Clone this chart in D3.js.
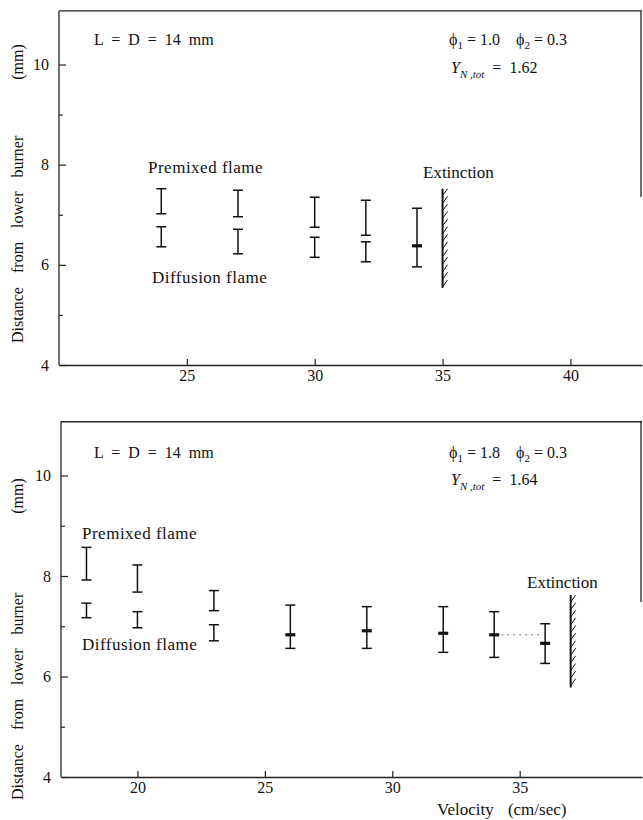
<!DOCTYPE html>
<html><head><meta charset="utf-8">
<script src="https://cdn.jsdelivr.net/npm/d3@7"></script>
<style>
body{margin:0;background:#fff}
text{font-family:"Liberation Serif","Times New Roman",serif;fill:#111}
</style></head><body>
<svg id="c" width="643" height="820"></svg>
<script>
// ---------- data (top panel: phi1 = 1.0) ----------
const topVel      = [24, 27, 30, 32, 34];
const topPreHigh  = [7.52, 7.49, 7.35, 7.29, 7.13];
const topPreLow   = [7.02, 6.96, 6.75, 6.59, 6.38];
const topDifHigh  = [6.76, 6.71, 6.55, 6.46, 6.38];
const topDifLow   = [6.36, 6.22, 6.15, 6.06, 5.96];
const topExtinction = 35;
const topExtRange = [5.54, 7.52];
const topXTicks = [25, 30, 35, 40];

// ---------- data (bottom panel: phi1 = 1.8) ----------
const botVel      = [18, 20, 23, 26, 29, 32, 34, 36];
const botPreHigh  = [8.57, 8.22, 7.71, 7.42, 7.39, 7.39, 7.29, 7.05];
const botPreLow   = [7.92, 7.68, 7.31, 6.83, 6.91, 6.86, 6.83, 6.66];
const botDifHigh  = [7.46, 7.29, 7.03, 6.83, 6.91, 6.86, 6.83, 6.66];
const botDifLow   = [7.17, 6.97, 6.71, 6.56, 6.56, 6.48, 6.38, 6.26];
const botExtinction = 37;
const botExtRange = [5.78, 7.62];
const botXTicks = [20, 25, 30, 35];
const botDotted = [[34, 6.83], [36, 6.83]];

const yMajor = [4, 6, 8, 10];
const yMinor = [5, 7, 9];

const svg = d3.select("#c");

function panel(cfg){
  const g = svg.append("g");
  const x = d3.scaleLinear().domain(cfg.xDomain).range(cfg.xRange);
  const y = d3.scaleLinear().domain([4, 10]).range(cfg.yRange);
  const X0 = cfg.xRange[0], X1 = cfg.xRange[1], Y0 = cfg.yRange[0], YT = y(cfg.yTopVal);

  g.append("line").attr("x1",X0).attr("x2",X1).attr("y1",YT).attr("y2",YT)
    .attr("stroke","#222").attr("stroke-width",1.3);
  g.append("line").attr("x1",X1-1).attr("x2",X1-1).attr("y1",YT).attr("y2",cfg.rightEnd)
    .attr("stroke","#222").attr("stroke-width",1.3);

  const ya = g.append("g").attr("transform",`translate(${X0},0)`)
    .call(d3.axisLeft(y).tickValues(yMajor).tickSize(-7).tickSizeOuter(0).tickPadding(10).tickFormat(d3.format("d")));
  ya.select(".domain").attr("d",`M0,${Y0}V${YT}`);
  ya.selectAll("text").style("font-size","16px").style("font-family","Liberation Serif");
  g.append("g").attr("transform",`translate(${X0},0)`)
    .call(d3.axisLeft(y).tickValues(yMinor).tickSize(-4).tickSizeOuter(0).tickFormat(""))
    .select(".domain").remove();
  const xa = g.append("g").attr("transform",`translate(0,${Y0})`)
    .call(d3.axisBottom(x).tickValues(cfg.xTicks).tickSize(-6).tickSizeOuter(0).tickPadding(5).tickFormat(d3.format("d")));
  xa.selectAll("text").style("font-size","16px").style("font-family","Liberation Serif");
  g.selectAll(".domain").attr("stroke","#222").attr("stroke-width",1.3);
  g.selectAll(".tick line").attr("stroke","#222").attr("stroke-width",1.2);

  const cap = 5;
  const bars = g.append("g").attr("stroke","#111").attr("stroke-width",1.5);
  cfg.vel.forEach((v,i)=>{
    const cx = x(v);
    const joined = cfg.preLow[i] === cfg.difHigh[i];
    bars.append("line").attr("x1",cx).attr("x2",cx).attr("y1",y(cfg.preHigh[i])).attr("y2",y(cfg.preLow[i]));
    bars.append("line").attr("x1",cx-cap).attr("x2",cx+cap).attr("y1",y(cfg.preHigh[i])).attr("y2",y(cfg.preHigh[i]));
    bars.append("line").attr("x1",cx).attr("x2",cx).attr("y1",y(cfg.difHigh[i])).attr("y2",y(cfg.difLow[i]));
    bars.append("line").attr("x1",cx-cap).attr("x2",cx+cap).attr("y1",y(cfg.difLow[i])).attr("y2",y(cfg.difLow[i]));
    if (joined){
      bars.append("line").attr("x1",cx-cap).attr("x2",cx+cap).attr("y1",y(cfg.preLow[i])).attr("y2",y(cfg.preLow[i]))
        .attr("stroke-width",3.2);
    } else {
      bars.append("line").attr("x1",cx-cap).attr("x2",cx+cap).attr("y1",y(cfg.preLow[i])).attr("y2",y(cfg.preLow[i]));
      bars.append("line").attr("x1",cx-cap).attr("x2",cx+cap).attr("y1",y(cfg.difHigh[i])).attr("y2",y(cfg.difHigh[i]));
    }
  });

  if (cfg.dotted){
    g.append("line").attr("x1",x(cfg.dotted[0][0])+7).attr("x2",x(cfg.dotted[1][0])-4)
      .attr("y1",y(cfg.dotted[0][1])).attr("y2",y(cfg.dotted[1][1]))
      .attr("stroke","#777").attr("stroke-width",1).attr("stroke-dasharray","2,4");
  }

  const ex = x(cfg.ext);
  const yTop = y(cfg.extRange[1]), yBot = y(cfg.extRange[0]);
  g.append("line").attr("x1",ex).attr("x2",ex).attr("y1",yTop).attr("y2",yBot)
    .attr("stroke","#111").attr("stroke-width",2);
  const hatch = d3.range(yTop+7, yBot+1, 7.6);
  g.selectAll(null).data(hatch).enter().append("line")
    .attr("x1",ex).attr("y1",d=>d).attr("x2",ex+5).attr("y2",d=>d-7)
    .attr("stroke","#111").attr("stroke-width",1);

  const t = (txt,xx,yy,size)=>g.append("text").attr("x",xx).attr("y",yy).style("font-size",(size||16)+"px").text(txt);
  g.append("text").attr("x",cfg.ld[0]).attr("y",cfg.ld[1]).style("font-size","16px")
    .attr("xml:space","preserve").style("white-space","pre").text("L  =  D  =  14  mm");
  const ph = g.append("text").attr("x",cfg.phi[0]).attr("y",cfg.phi[1]).style("font-size","16px").style("white-space","pre");
  ph.append("tspan").text("\u03d5");
  ph.append("tspan").attr("dy",4).style("font-size","11px").text("1");
  ph.append("tspan").attr("dy",-4).text(" = " + cfg.phi1 + "    \u03d5");
  ph.append("tspan").attr("dy",4).style("font-size","11px").text("2");
  ph.append("tspan").attr("dy",-4).text(" = 0.3");
  const yn = g.append("text").attr("x",cfg.yn[0]).attr("y",cfg.yn[1]).style("font-size","16px").style("white-space","pre");
  yn.append("tspan").style("font-style","italic").text("Y");
  yn.append("tspan").attr("dy",5).style("font-size","11px").style("font-style","italic").text("N ,tot");
  yn.append("tspan").attr("dy",-5).text("  =  " + cfg.ynVal);
  t("Premixed flame", cfg.pre[0], cfg.pre[1], 17).style("letter-spacing","0.5px");
  t("Diffusion flame", cfg.dif[0], cfg.dif[1], 17).style("letter-spacing","0.5px");
  t("Extinction", cfg.extT[0], cfg.extT[1], 17);

  g.append("text").attr("transform",`translate(23,${cfg.ylab})rotate(-90)`).style("font-size","16px")
    .style("word-spacing","10px").text("Distance from lower burner");
  g.append("text").attr("transform",`translate(23,${cfg.mm})rotate(-90)`).style("font-size","16px")
    .attr("text-anchor","middle").text("(mm)");
  return {x,y};
}

panel({xDomain:[20,42.8], xRange:[59,642], yRange:[365,64.5], yTopVal:11.07, rightEnd:197,
  xTicks:topXTicks, vel:topVel, preHigh:topPreHigh, preLow:topPreLow, difHigh:topDifHigh, difLow:topDifLow,
  ext:topExtinction, extRange:topExtRange,
  ld:[94,45], phi:[449,45], phi1:"1.0", yn:[451,73], ynVal:"1.62",
  pre:[148,173], dif:[152,283], extT:[423,178], ylab:343, mm:62});

panel({xDomain:[17,39.8], xRange:[61,642], yRange:[777,475.5], yTopVal:11.07, rightEnd:602,
  xTicks:botXTicks, vel:botVel, preHigh:botPreHigh, preLow:botPreLow, difHigh:botDifHigh, difLow:botDifLow,
  ext:botExtinction, extRange:botExtRange, dotted:botDotted,
  ld:[94,458], phi:[449,458], phi1:"1.8", yn:[451,485], ynVal:"1.64",
  pre:[82,539], dif:[82,650], extT:[527,588], ylab:800, mm:496});

svg.append("text").attr("x",437).attr("y",815).style("font-size","17px").style("word-spacing","10px")
  .text("Velocity (cm/sec)");
</script>
</body></html>
